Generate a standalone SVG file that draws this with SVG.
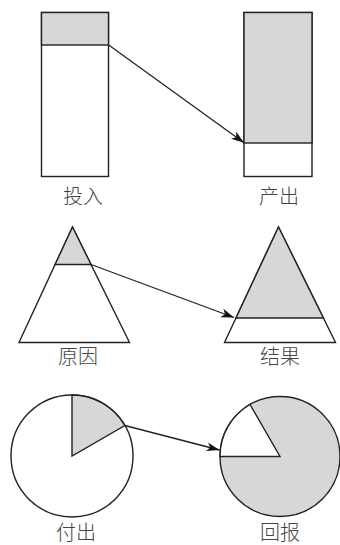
<svg xmlns="http://www.w3.org/2000/svg" width="340" height="545" viewBox="0 0 340 545">
<style>
.o{fill:none;stroke:#222;stroke-width:1.4;stroke-linejoin:miter}
.g{fill:#d7d7d7;stroke:#222;stroke-width:1.4}
.w{fill:#fff;stroke:#222;stroke-width:1.4}
.t{font-family:"Noto Sans CJK SC","Noto Sans CJK TC",sans-serif;font-size:20px;font-weight:300;fill:#444;text-anchor:middle}
.c{fill:none;stroke:#222;stroke-width:1.3}
</style>
<defs>
<marker id="ah" markerUnits="userSpaceOnUse" markerWidth="14" markerHeight="10" refX="13" refY="5" orient="auto">
<path d="M0,0.5 L13,5 L0,9.5 L3.5,5 z" fill="#111"/>
</marker>
</defs>
<rect width="340" height="545" fill="#fff"/>
<g id="input">
<rect class="w" x="41.5" y="12.5" width="67" height="164"/>
<rect class="g" x="41.5" y="12.5" width="67" height="32.5"/>
<text class="t" x="83" y="204">投入</text>
</g>
<g id="output">
<rect class="w" x="244" y="12.5" width="68" height="164"/>
<rect class="g" x="244" y="12.5" width="68" height="130.5"/>
<text class="t" x="279" y="204">产出</text>
</g>
<g id="cause">
<polygon class="w" points="72.5,227 19,342.5 129.5,342.5"/>
<polygon class="g" points="72.5,227 55.1,264.5 91,264.5"/>
<text class="t" x="78" y="364">原因</text>
</g>
<g id="effect">
<polygon class="w" points="278.5,227 224.5,342.5 335.5,342.5"/>
<polygon class="g" points="278.5,227 236,318 323.4,318"/>
<text class="t" x="280" y="364">结果</text>
</g>
<g id="pay">
<circle class="w" cx="72" cy="456" r="61"/>
<path class="g" d="M72,456 L72,395 A61,61 0 0 1 124.8,425.5 Z"/>
<text class="t" x="76" y="540">付出</text>
</g>
<g id="reward">
<circle class="g" cx="280" cy="456.5" r="60"/>
<path class="w" d="M280,456.5 L220,456.5 A60,60 0 0 1 250,404.5 Z"/>
<text class="t" x="280" y="540">回报</text>
</g>
<g id="connectors">
<line class="c" x1="108.7" y1="45" x2="244" y2="142.7" marker-end="url(#ah)"/>
<line class="c" x1="91" y1="264.5" x2="234" y2="317.5" marker-end="url(#ah)"/>
<line class="c" x1="124.8" y1="425.5" x2="219.5" y2="450" marker-end="url(#ah)"/>
</g>
</svg>
